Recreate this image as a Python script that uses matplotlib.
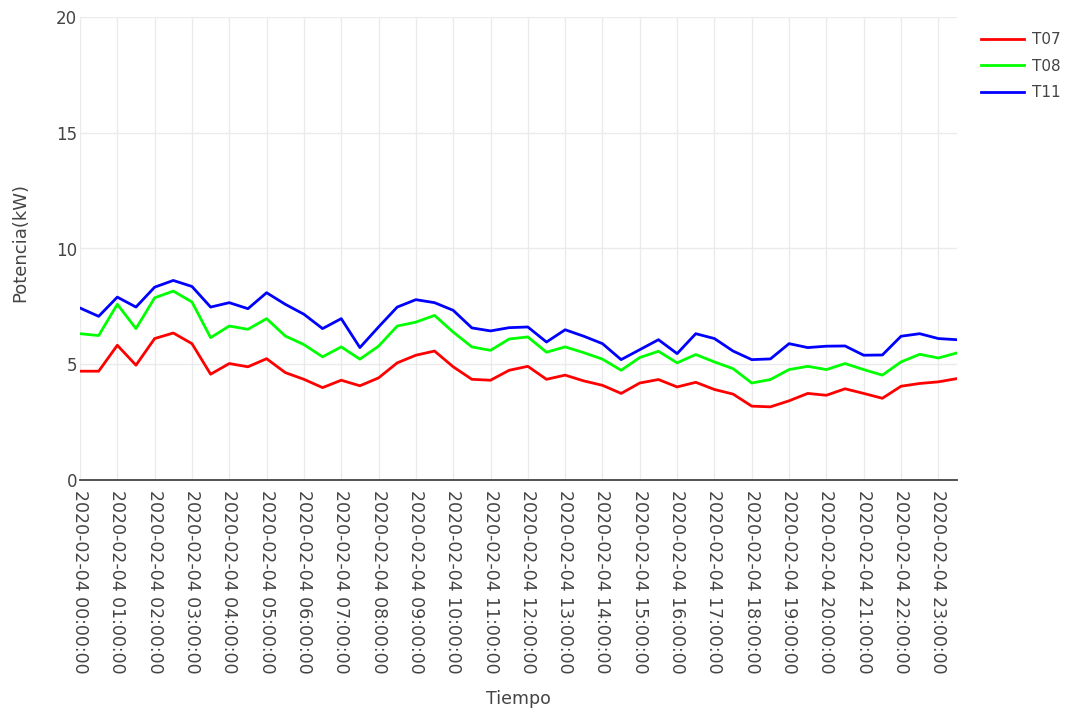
import matplotlib
matplotlib.use('Agg')
import matplotlib.pyplot as plt
import matplotlib.dates as mdates
import pandas as pd

plt.rcParams['font.family'] = ['DejaVu Sans']

# Data (potencia cada 30 min) -----------------------------------------
tiempo = pd.date_range('2020-02-04 00:00:00', periods=48, freq='30min')

t07 = [4.70, 4.70, 5.82, 4.96, 6.11, 6.35, 5.89, 4.57, 5.03, 4.89,
       5.24, 4.64, 4.35, 3.99, 4.31, 4.07, 4.41, 5.06, 5.39, 5.57,
       4.89, 4.35, 4.31, 4.74, 4.91, 4.35, 4.53, 4.28, 4.09, 3.74,
       4.19, 4.34, 4.02, 4.22, 3.91, 3.71, 3.19, 3.16, 3.42, 3.74,
       3.66, 3.94, 3.74, 3.53, 4.05, 4.17, 4.24, 4.38]
t08 = [6.32, 6.24, 7.59, 6.54, 7.87, 8.16, 7.69, 6.15, 6.65, 6.51,
       6.97, 6.22, 5.85, 5.32, 5.75, 5.22, 5.78, 6.65, 6.82, 7.11,
       6.39, 5.75, 5.60, 6.09, 6.18, 5.52, 5.75, 5.50, 5.22, 4.74,
       5.29, 5.56, 5.06, 5.42, 5.10, 4.81, 4.19, 4.34, 4.77, 4.91,
       4.77, 5.03, 4.77, 4.53, 5.10, 5.43, 5.27, 5.49]
t11 = [7.43, 7.07, 7.90, 7.47, 8.33, 8.62, 8.36, 7.47, 7.66, 7.40,
       8.09, 7.59, 7.16, 6.54, 6.97, 5.72, 6.61, 7.47, 7.79, 7.66,
       7.33, 6.57, 6.44, 6.58, 6.61, 5.96, 6.49, 6.21, 5.89, 5.20,
       5.63, 6.06, 5.46, 6.32, 6.11, 5.57, 5.20, 5.23, 5.89, 5.72,
       5.78, 5.79, 5.39, 5.40, 6.21, 6.32, 6.11, 6.06]

series = [('T07', t07, '#ff0000'), ('T08', t08, '#00ff00'), ('T11', t11, '#0000ff')]

# Plot ------------------------------------------------------------------
fig = plt.figure(figsize=(10.72, 7.14), dpi=100)
ax = fig.add_axes([80/1072, 1 - 480/714, (957 - 80)/1072, (480 - 17)/714])

for name, vals, col in series:
    ax.plot(tiempo, vals, color=col, lw=2.0, label=name)

ax.set_xlim(tiempo[0], tiempo[-1])
ax.set_ylim(0, 20)
ax.set_yticks([0, 5, 10, 15, 20])

ax.xaxis.set_major_locator(mdates.HourLocator(interval=1))
ax.xaxis.set_major_formatter(mdates.DateFormatter('%Y-%m-%d %H:%M:%S'))
plt.setp(ax.get_xticklabels(), rotation=-90, ha='center', va='top')

ax.grid(True, color='#ebebeb', lw=1)
ax.set_axisbelow(True)
for s in ['top', 'right', 'left']:
    ax.spines[s].set_visible(False)
ax.spines['bottom'].set_color('#444444')
ax.spines['bottom'].set_linewidth(1.3)
ax.tick_params(length=0, colors='#444444')
ax.tick_params(axis='x', pad=7, labelsize=12.5)
ax.tick_params(axis='y', pad=2, labelsize=12)

ax.set_xlabel('Tiempo', fontsize=12.5, color='#444444', va='baseline')
ax.xaxis.set_label_coords(0.5, (480 - 703.5)/463)
ax.set_ylabel('Potencia(kW)', fontsize=13, color='#444444', va='center')
ax.yaxis.set_label_coords((20 - 80)/877, (480 - 242.5)/463)

fig.legend(loc='upper left', bbox_to_anchor=(975/1072, 1 - 26/714), frameon=False,
           fontsize=11, labelcolor='#444444', handlelength=2.8, handletextpad=0.5,
           labelspacing=0.75, borderaxespad=0)

fig.savefig('out.png', dpi=100, facecolor='white')
